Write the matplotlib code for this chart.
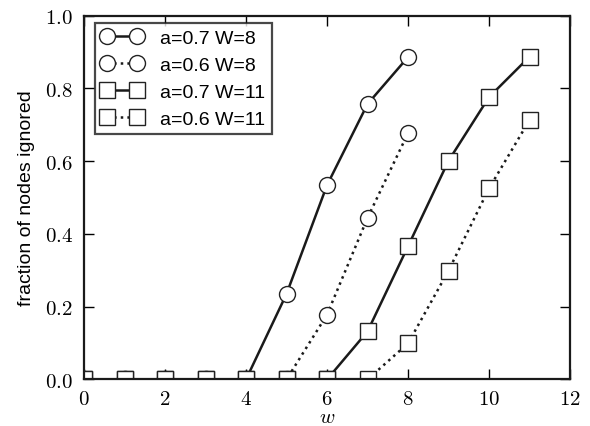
import matplotlib
matplotlib.use("Agg")
import matplotlib.pyplot as plt
from matplotlib.ticker import FuncFormatter

plt.rcParams['mathtext.fontset'] = 'cm'
plt.rcParams['font.family'] = ['Liberation Sans', 'DejaVu Sans']

# data
w_8 = [0, 1, 2, 3, 4, 5, 6, 7, 8]
frac_07_W8 = [0, 0, 0, 0, 0, 0.235, 0.534, 0.757, 0.886]
frac_06_W8 = [0, 0, 0, 0, 0, 0, 0.178, 0.444, 0.677]
w_11 = [0, 1, 2, 3, 4, 5, 6, 7, 8, 9, 10, 11]
frac_07_W11 = [0, 0, 0, 0, 0, 0, 0, 0.132, 0.366, 0.601, 0.776, 0.887]
frac_06_W11 = [0, 0, 0, 0, 0, 0, 0, 0, 0.099, 0.299, 0.525, 0.713]
labels = ["a=0.7 W=8", "a=0.6 W=8", "a=0.7 W=11", "a=0.6 W=11"]

fig = plt.figure(figsize=(5.9, 4.27), dpi=100)
ax = fig.add_axes([0.1424, 0.109, 0.8237, 0.852])

mk = dict(markersize=11.5, markerfacecolor='white', markeredgecolor='#222222',
          markeredgewidth=1.0, color='#1a1a1a')
ax.plot(w_8, frac_07_W8, '-', marker='o', lw=1.8, label=labels[0], **mk)
ax.plot(w_8, frac_06_W8, ':', marker='o', lw=1.8, label=labels[1], **mk)
ax.plot(w_11, frac_07_W11, '-', marker='s', lw=1.8, label=labels[2], **mk)
ax.plot(w_11, frac_06_W11, ':', marker='s', lw=1.8, label=labels[3], **mk)

ax.set_xlim(0, 12)
ax.set_ylim(0, 1.0)
ax.set_xticks([0, 2, 4, 6, 8, 10, 12])
ax.set_yticks([0, 0.2, 0.4, 0.6, 0.8, 1.0])
ax.xaxis.set_major_formatter(FuncFormatter(lambda v, p: r'$%d$' % v))
ax.yaxis.set_major_formatter(FuncFormatter(lambda v, p: r'$%.1f$' % v))
ax.tick_params(direction='in', length=7, width=1.0, top=True, right=True,
               labelsize=15)
ax.tick_params(axis='y', pad=8)
ax.tick_params(axis='x', pad=7)
for s in ax.spines.values():
    s.set_linewidth(1.6)
    s.set_color('#1a1a1a')

ax.set_xlabel(r'$w$', fontsize=15, labelpad=-1)
ax.set_ylabel('fraction of nodes ignored', fontsize=14, labelpad=7)

leg = ax.legend(loc='upper left', bbox_to_anchor=(0.022, 0.98), borderaxespad=0,
                numpoints=2, fancybox=False, fontsize=14, handlelength=2.15,
                handletextpad=0.9, labelspacing=0.48, borderpad=0.32)
leg.get_frame().set_edgecolor('#1a1a1a')
leg.get_frame().set_linewidth(1.6)

fig.savefig("out.png", dpi=100)
